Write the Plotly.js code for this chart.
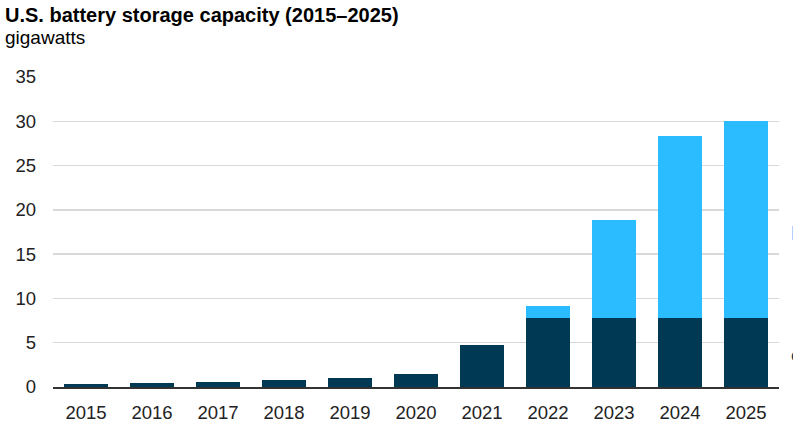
<!DOCTYPE html>
<html>
<head>
<meta charset="utf-8">
<script src="https://cdn.plot.ly/plotly-3.0.1.min.js"></script>
<style>
  html, body { margin: 0; padding: 0; background: #fff; }
  #chart { width: 793px; height: 445px; }
</style>
</head>
<body>
<div id="chart"></div>
<script>
// values (gigawatts)
const years = ["2015", "2016", "2017", "2018", "2019", "2020", "2021", "2022", "2023", "2024", "2025"];
const operating = [0.35, 0.5, 0.6, 0.8, 1.0, 1.5, 4.7, 7.8, 7.8, 7.8, 7.8];
const planned = [0, 0, 0, 0, 0, 0, 0, 1.3, 11.1, 20.5, 22.2];

const darkBlue = "#003953";
const lightBlue = "#2abcff";

const data = [
  {
    name: "operating",
    x: years,
    y: operating,
    type: "bar",
    marker: { color: darkBlue },
    hoverinfo: "x+y",
  },
  {
    name: "planned",
    x: years,
    y: planned,
    type: "bar",
    marker: { color: lightBlue },
    hoverinfo: "x+y",
  },
];

const font = "Liberation Sans, Arial, sans-serif";

const layout = {
  width: 793,
  height: 445,
  margin: { l: 53, r: 14, t: 77, b: 58 },
  barmode: "stack",
  bargap: 0.333,
  showlegend: false,
  paper_bgcolor: "#fff",
  plot_bgcolor: "#fff",
  font: { family: font, size: 18.5, color: "#222" },
  xaxis: {
    type: "category",
    showgrid: false,
    showline: true,
    linecolor: "#333",
    linewidth: 1.5,
    ticks: "",
    ticklabelstandoff: 8,
    tickfont: { size: 18.5, color: "#222" },
  },
  yaxis: {
    range: [0, 35],
    dtick: 5,
    showgrid: true,
    gridcolor: "#d9d9d9",
    gridwidth: 1.3,
    zeroline: false,
    showline: false,
    ticks: "",
    ticklabelstandoff: 16,
    tickfont: { size: 18.5, color: "#222" },
  },
  annotations: [
    {
      text: "<b>U.S. battery storage capacity (2015–2025)</b>",
      xref: "paper", yref: "paper",
      x: -0.069, y: 1.2, xanchor: "left", yanchor: "middle",
      showarrow: false,
      font: { size: 20, color: "#000" },
    },
    {
      text: "gigawatts",
      xref: "paper", yref: "paper",
      x: -0.069, y: 1.126, xanchor: "left", yanchor: "middle",
      showarrow: false,
      font: { size: 19, color: "#000" },
    },
    {
      text: "<b>Planned</b>",
      xref: "paper", yref: "y",
      x: 1.0135, y: 17.4, xanchor: "left", yanchor: "middle",
      showarrow: false,
      font: { size: 20, color: lightBlue },
    },
    {
      text: "<b>operating</b>",
      xref: "paper", yref: "y",
      x: 1.0135, y: 3.6, xanchor: "left", yanchor: "middle",
      showarrow: false,
      font: { size: 20, color: darkBlue },
    },
  ],
};

const config = { staticPlot: true, responsive: false };

Plotly.newPlot("chart", data, layout, config);
</script>
</body>
</html>
